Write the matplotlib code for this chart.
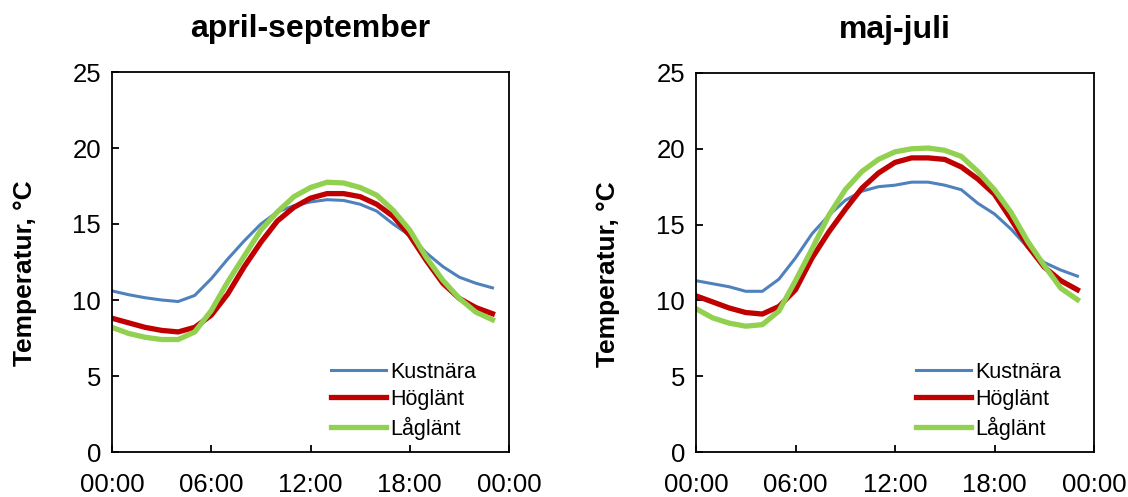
import matplotlib
matplotlib.use('Agg')
import matplotlib.pyplot as plt
from matplotlib.ticker import FixedLocator

plt.rcParams['font.family'] = ['Liberation Sans', 'DejaVu Sans']

hours = list(range(24))
tick_pos = [0, 6, 12, 18, 24]
tick_labels = ['00:00', '06:00', '12:00', '18:00', '00:00']
titles = ['april-september', 'maj-juli']

# april-september
kust_as = [10.6, 10.35, 10.15, 10.0, 9.9, 10.3, 11.4, 12.7, 13.9, 15.0, 15.8, 16.2,
           16.45, 16.6, 16.55, 16.3, 15.85, 15.0, 14.25, 13.1, 12.2, 11.5, 11.1, 10.8]
hog_as = [8.8, 8.5, 8.2, 8.0, 7.9, 8.2, 9.0, 10.4, 12.2, 13.8, 15.2, 16.1,
          16.7, 17.0, 17.0, 16.8, 16.3, 15.5, 14.25, 12.6, 11.1, 10.1, 9.5, 9.1]
lag_as = [8.2, 7.8, 7.55, 7.4, 7.4, 7.9, 9.3, 11.2, 12.9, 14.6, 15.8, 16.8,
          17.4, 17.75, 17.7, 17.4, 16.9, 15.9, 14.6, 12.8, 11.3, 10.1, 9.2, 8.7]

# maj-juli
kust_mj = [11.3, 11.1, 10.9, 10.6, 10.6, 11.4, 12.8, 14.4, 15.6, 16.6, 17.2, 17.5,
           17.6, 17.8, 17.8, 17.6, 17.3, 16.4, 15.7, 14.7, 13.5, 12.5, 12.0, 11.6]
hog_mj = [10.3, 9.9, 9.5, 9.2, 9.1, 9.6, 10.7, 12.8, 14.5, 16.0, 17.4, 18.4,
          19.1, 19.4, 19.4, 19.3, 18.8, 18.0, 17.0, 15.35, 13.6, 12.2, 11.3, 10.7]
lag_mj = [9.45, 8.85, 8.5, 8.3, 8.4, 9.3, 11.3, 13.4, 15.6, 17.3, 18.5, 19.3,
          19.8, 20.0, 20.05, 19.9, 19.5, 18.5, 17.3, 15.8, 13.9, 12.3, 10.8, 10.05]

series = [(kust_as, hog_as, lag_as), (kust_mj, hog_mj, lag_mj)]

fig = plt.figure(figsize=(11.28, 4.97), dpi=100)
ax1 = fig.add_axes([112 / 1128, 1 - 452 / 497, 397 / 1128, 380 / 497])
ax2 = fig.add_axes([696 / 1128, 1 - 452 / 497, 398 / 1128, 379 / 497])

for ax, title, (k, h, l) in zip([ax1, ax2], titles, series):
    ax.plot(hours, k, color='#4f81bd', lw=2.2, label='Kustnära')
    ax.plot(hours, h, color='#c00000', lw=3.8, label='Höglänt')
    ax.plot(hours, l, color='#92d050', lw=3.8, label='Låglänt')

    ax.set_xlim(0, 24)
    ax.set_ylim(0, 25)
    ax.xaxis.set_major_locator(FixedLocator(tick_pos))
    ax.set_xticklabels(tick_labels)
    ax.set_yticks([0, 5, 10, 15, 20, 25])
    ax.tick_params(direction='in', length=5, width=1.3, labelsize=18.5)
    ax.tick_params(axis='x', pad=15)
    ax.tick_params(axis='y', pad=8)
    for s in ax.spines.values():
        s.set_linewidth(1.3)

    ax.set_title(title, fontsize=23, fontweight='bold', pad=25)
    ax.set_ylabel('Temperatur, °C', fontsize=19, fontweight='bold')
    ax.yaxis.set_label_coords(-0.19, 0.47)

    ax.legend(loc='lower right', bbox_to_anchor=(0.94, 0.01), frameon=False,
              fontsize=15.5, handlelength=2.55, handletextpad=0.2,
              labelspacing=0.3, borderaxespad=0)

fig.savefig('out.png', dpi=100)
